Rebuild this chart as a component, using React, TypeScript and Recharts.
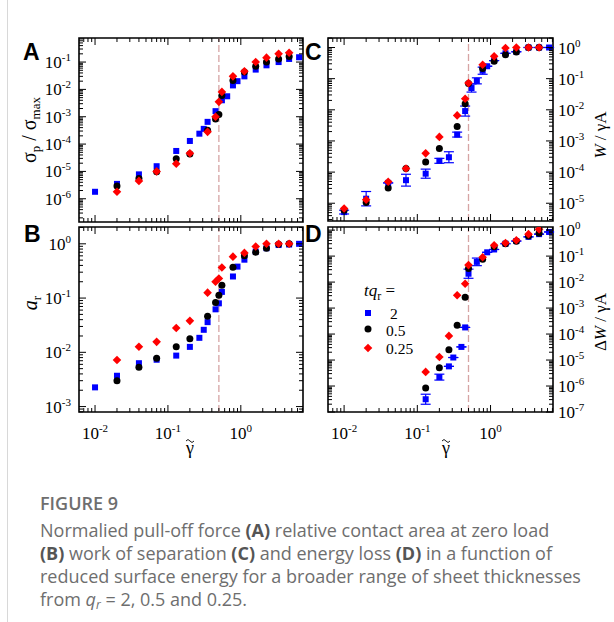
import React from 'react';
import { ScatterChart, Scatter, XAxis, YAxis, ReferenceLine, ReferenceArea, ErrorBar } from 'recharts';

// reduced surface energy (x) for each thickness series
const xQ2 = [0.01, 0.02, 0.04, 0.07, 0.13, 0.2, 0.27, 0.31, 0.35, 0.4, 0.45, 0.5, 0.55, 0.65, 0.78, 0.9, 1.12, 1.6, 2.25, 3.3, 4.6, 6.3];
const xQ05 = [0.01, 0.02, 0.04, 0.07, 0.13, 0.2, 0.27, 0.35, 0.45, 0.5, 0.55, 0.78, 1.12, 1.6, 2.25, 3.3, 4.6];
const xQ025 = [0.01, 0.02, 0.04, 0.07, 0.13, 0.2, 0.27, 0.35, 0.45, 0.5, 0.55, 0.78, 1.12, 1.6, 2.25, 3.3, 4.6];

// (A) pull-off force
const aQ2 = [1.8e-6, 3.5e-6, 7.8e-6, 1.55e-5, 5.6e-5, 1.3e-4, 2.4e-4, 3.6e-4, 6.5e-4, null, 1.6e-3, null, 4.0e-3, 5.6e-3, 0.014, 0.02, 0.03, 0.053, 0.076, 0.1, 0.13, 0.15];
const aQ05 = [null, 2.9e-6, 5.5e-6, 9.8e-6, 2.9e-5, 4.3e-5, null, 3.2e-4, 8.2e-4, 1.2e-3, 6e-3, 0.021, 0.043, 0.07, 0.1, 0.13, 0.16];
const aQ025 = [null, 1.8e-6, 4.5e-6, 1.0e-5, 1.9e-5, 4.6e-5, null, 2.8e-4, 1.0e-3, 3.5e-3, 8.1e-3, 0.03, 0.046, 0.1, 0.145, 0.2, 0.22];

// (B) contact area
const bQ2 = [0.00226, 0.0037, 0.0063, 0.0073, 0.0087, 0.0126, 0.0185, 0.026, 0.036, null, 0.062, 0.08, 0.13, null, 0.25, 0.38, 0.51, 0.72, 0.83, 0.95, 0.97, 1.0];
const bQ05 = [null, 0.003, 0.0053, 0.0078, 0.0127, 0.0177, null, 0.046, 0.083, 0.113, 0.173, 0.37, 0.6, 0.7, 0.83, 0.98, 1.0];
const bQ025 = [null, 0.0072, 0.0127, 0.0156, 0.028, 0.038, null, 0.126, 0.2, 0.23, 0.365, 0.58, 0.68, 0.89, 1.0, 1.0, 1.0];

// (C) work of separation
const cQ2 = [5.2e-6, 1.4e-5, 4.5e-5, 5.5e-5, 8.9e-5, 2.3e-4, 3.0e-4, null, 1.6e-3, null, 9.1e-3, null, 0.05, 0.085, 0.18, 0.25, 0.38, 0.65, 0.73, 1.0, 1.0, 1.0];
const cQ2Err = [1.15, 1.7, 1, 1.55, 1.4, 1.2, 1.5, 1, 1.2, 1, 1.45, 1, 1.35, 1.25, 1.3, 1, 1, 1, 1, 1, 1, 1];
const cQ05 = [6e-6, 1.05e-5, 3.1e-5, 1.3e-4, 2.1e-4, 5.7e-4, null, 2.9e-3, 0.0156, 0.07, null, 0.21, 0.36, 0.59, 0.72, 1.0, 1.0];
const cQ025 = [6.8e-6, 1.3e-5, 4.9e-5, 1.3e-4, 4.0e-4, 1.35e-3, null, 6.6e-3, 0.0226, 0.072, null, 0.28, 0.52, 0.96, 1.0, 1.0, 1.0];

// (D) energy loss
const dQ2 = [null, null, null, null, 3.1e-7, 2.2e-6, 5.7e-6, 1.25e-5, null, 3.2e-5, 1.8e-4, 0.021, null, 0.06, null, 0.14, 0.18, 0.3, 0.38, 0.55, 0.7, 0.85];
const dQ2Err = [1, 1, 1, 1, 1.56, 1.3, 1, 1, 1, 1, 1, 1.5, 1, 1.4, 1, 1, 1, 1, 1, 1, 1, 1];
const dQ05 = [null, null, null, null, 8.3e-7, 5.1e-6, 2.5e-5, 2.2e-4, 2.6e-3, 0.033, null, 0.075, 0.23, 0.3, 0.37, 0.6, 0.75];
const dQ025 = [null, null, null, null, 3.5e-6, 1.3e-5, 8.5e-5, 3.1e-3, 8.6e-3, 0.045, null, 0.09, 0.26, 0.32, 0.41, 0.7, 1.07];

const legendLabels = ['2', '0.5', '0.25'];
const transition = 0.5;

const SERIF = '"Liberation Serif", "Times New Roman", serif';
const SANS = '"Liberation Sans", Arial, sans-serif';
const BLUE = '#0000ff';
const RED = '#ff0000';
const CW = 614;
const CH = 470;
const X_DOMAIN: [number, number] = [10 ** -2.22, 10 ** 0.853];

type Frame = { l: number; r: number; t: number; b: number };

const points = (xs: number[], ys: (number | null)[], errs?: number[]) =>
  xs
    .map((x, i) => {
      const y = ys[i];
      if (y == null) return null;
      const f = errs ? errs[i] : 1;
      return { x, y, err: [y - y / f, y * f - y] };
    })
    .filter(Boolean) as { x: number; y: number; err: number[] }[];

const logTicks = (lo: number, hi: number) => {
  const out: number[] = [];
  for (let e = Math.floor(Math.log10(lo)); e <= Math.ceil(Math.log10(hi)); e++) {
    for (let m = 1; m < 10; m++) {
      const v = m * 10 ** e;
      if (v >= lo && v <= hi) out.push(v);
    }
  }
  return out;
};

const isDecade = (v: number) => Math.abs(Math.log10(v) - Math.round(Math.log10(v))) < 1e-6;

const Pow = ({ x, y, v, anchor }: { x: number; y: number; v: number; anchor: string }) => (
  <text x={x} y={y} textAnchor={anchor as any} fontFamily={SERIF} fontSize={17} fill="#000">
    <tspan>10</tspan>
    <tspan dy={-7} fontSize={11}>{String(Math.round(Math.log10(v)))}</tspan>
  </text>
);

const xTick = (f: Frame, labels: boolean) => (p: any) => {
  const v = p.payload.value;
  const x = p.payload.coordinate ?? p.x;
  const len = isDecade(v) ? 7 : 4;
  return (
    <g>
      <line x1={x} x2={x} y1={f.b} y2={f.b - len} stroke="#000" />
      <line x1={x} x2={x} y1={f.t} y2={f.t + len} stroke="#000" />
      {labels && isDecade(v) && <Pow x={x} y={f.b + 27} v={v} anchor="middle" />}
    </g>
  );
};

const yTick = (f: Frame, side: 'left' | 'right') => (p: any) => {
  const v = p.payload.value;
  const y = p.payload.coordinate ?? p.y;
  const len = isDecade(v) ? 7 : 4;
  return (
    <g>
      <line x1={f.l} x2={f.l + len} y1={y} y2={y} stroke="#000" />
      <line x1={f.r - len} x2={f.r} y1={y} y2={y} stroke="#000" />
      {isDecade(v) &&
        (side === 'left' ? (
          <Pow x={f.l - 8} y={y + 6} v={v} anchor="end" />
        ) : (
          <Pow x={f.r + 5} y={y + 6} v={v} anchor="start" />
        ))}
    </g>
  );
};

const Square = (p: any) => <rect x={p.cx - 3} y={p.cy - 3} width={6} height={6} fill={BLUE} />;
const Dot = (p: any) => <circle cx={p.cx} cy={p.cy} r={3.5} fill="#000" />;
const Diamond = (p: any) => (
  <polygon points={`${p.cx},${p.cy - 4.3} ${p.cx + 4.3},${p.cy} ${p.cx},${p.cy + 4.3} ${p.cx - 4.3},${p.cy}`} fill={RED} />
);

type PanelProps = {
  frame: Frame;
  yDomain: [number, number];
  side: 'left' | 'right';
  xLabels: boolean;
  q2: (number | null)[];
  q05: (number | null)[];
  q025: (number | null)[];
  q2Err?: number[];
};

const Panel = ({ frame, yDomain, side, xLabels, q2, q05, q025, q2Err }: PanelProps) => (
  <div style={{ position: 'absolute', left: 0, top: 0 }}>
    <ScatterChart
      width={CW}
      height={CH}
      margin={{ top: frame.t, left: frame.l - 1, right: CW - frame.r, bottom: CH - frame.b - 1 }}
    >
      <XAxis
        type="number"
        dataKey="x"
        scale="log"
        domain={X_DOMAIN}
        allowDataOverflow
        ticks={logTicks(...X_DOMAIN)}
        interval={0}
        height={1}
        tickLine={false}
        axisLine={false}
        tick={xTick(frame, xLabels)}
      />
      <YAxis
        type="number"
        dataKey="y"
        scale="log"
        domain={yDomain}
        allowDataOverflow
        ticks={logTicks(...yDomain)}
        interval={0}
        width={1}
        tickLine={false}
        axisLine={false}
        tick={yTick(frame, side)}
      />
      <ReferenceArea x1={X_DOMAIN[0]} x2={X_DOMAIN[1]} y1={yDomain[0]} y2={yDomain[1]} fill="none" fillOpacity={0} stroke="#000" strokeWidth={1.6} />
      <ReferenceLine x={transition} stroke="#d6a4a4" strokeDasharray="7 3" strokeWidth={1.3} />
      <Scatter data={points(xQ2, q2, q2Err)} shape={Square} isAnimationActive={false}>
        {q2Err && <ErrorBar dataKey="err" direction="y" width={5} stroke={BLUE} strokeWidth={1.2} />}
      </Scatter>
      <Scatter data={points(xQ05, q05)} shape={Dot} isAnimationActive={false} />
      <Scatter data={points(xQ025, q025)} shape={Diamond} isAnimationActive={false} />
    </ScatterChart>
  </div>
);

const Overlay = () => (
  <svg width={CW} height={470} style={{ position: 'absolute', left: 0, top: 0, pointerEvents: 'none' }}>
    <g fontFamily={SANS} fontWeight="bold" fontSize={23} fill="#000">
      <text x={23} y={60}>A</text>
      <text x={24} y={242}>B</text>
      <text x={305} y={60}>C</text>
      <text x={305} y={242}>D</text>
    </g>
    <g fontFamily={SERIF} fill="#000">
      <text transform="translate(36,130) rotate(-90)" textAnchor="middle" fontSize={20}>
        σ<tspan dy={4} fontSize={13}>p</tspan>
        <tspan dy={-4}> / σ</tspan>
        <tspan dy={4} fontSize={13}>max</tspan>
      </text>
      <text transform="translate(37,303) rotate(-90)" textAnchor="middle" fontSize={20}>
        <tspan fontStyle="italic">a</tspan>
        <tspan dy={4} fontSize={13}>r</tspan>
      </text>
      <text transform="translate(606,135) rotate(-90)" textAnchor="middle" fontSize={17}>
        <tspan fontStyle="italic">W</tspan> / γA
      </text>
      <text transform="translate(606,322) rotate(-90)" textAnchor="middle" fontSize={17}>
        Δ<tspan fontStyle="italic">W</tspan> / γA
      </text>
      {[190, 446].map((cx) => (
        <g key={cx}>
          <path d={`M${cx - 4},${441} q2,-3 4,0 t4,0`} fill="none" stroke="#000" strokeWidth={0.9} />
          <text x={cx} y={454} textAnchor="middle" fontSize={18}>γ</text>
        </g>
      ))}
      <text x={364} y={296} fontSize={17}>
        <tspan fontStyle="italic">tq</tspan>
        <tspan dy={4} fontSize={12}>r</tspan>
        <tspan dy={-4}> =</tspan>
      </text>
      <rect x={365} y={310} width={6} height={6} fill={BLUE} />
      <circle cx={368} cy={329} r={3.5} fill="#000" />
      <polygon points="368,343.7 372.3,348 368,352.3 363.7,348" fill={RED} />
      <text x={390} y={318.5} fontSize={15.5}>{legendLabels[0]}</text>
      <text x={386} y={336} fontSize={15.5}>{legendLabels[1]}</text>
      <text x={386} y={354} fontSize={15.5}>{legendLabels[2]}</text>
    </g>
  </svg>
);

const capBold = { fontWeight: 700, color: '#555' };
const line = { whiteSpace: 'nowrap' as const, height: 23, lineHeight: '23px' };

export default function App() {
  return (
    <div style={{ position: 'absolute', left: 0, top: 0, width: 614, height: 622, background: '#fff' }}>
      <div style={{ position: 'absolute', left: 7, top: 0, width: 1, height: 622, background: '#d8d8d8' }} />
      <Panel frame={{ l: 79, r: 303, t: 38, b: 222 }} yDomain={[10 ** -6.85, 10 ** -0.12]} side="left" xLabels={false} q2={aQ2} q05={aQ05} q025={aQ025} />
      <Panel frame={{ l: 79, r: 303, t: 227, b: 412 }} yDomain={[10 ** -3.1, 10 ** 0.31]} side="left" xLabels q2={bQ2} q05={bQ05} q025={bQ025} />
      <Panel frame={{ l: 328, r: 553, t: 38, b: 221 }} yDomain={[10 ** -5.57, 10 ** 0.305]} side="right" xLabels={false} q2={cQ2} q05={cQ05} q025={cQ025} q2Err={cQ2Err} />
      <Panel frame={{ l: 328, r: 553, t: 227, b: 412 }} yDomain={[1e-7, 10 ** 0.12]} side="right" xLabels q2={dQ2} q05={dQ05} q025={dQ025} q2Err={dQ2Err} />
      <Overlay />
      <div
        style={{
          position: 'absolute',
          left: 40,
          top: 491,
          fontFamily: '"Open Sans", sans-serif',
          fontSize: 18,
          color: '#6e6e6e',
        }}
      >
        <div style={{ fontWeight: 600, lineHeight: '24px', height: 24, marginBottom: 4 }}>FIGURE 9</div>
        <div style={line}>
          <span>Normalied pull-off force </span><span style={capBold}>(A)</span><span> relative contact area at zero load</span>
        </div>
        <div style={line}>
          <span style={capBold}>(B)</span><span> work of separation </span><span style={capBold}>(C)</span><span> and energy loss </span>
          <span style={capBold}>(D)</span><span> in a function of</span>
        </div>
        <div style={line}>
          <span>reduced surface energy for a broader range of sheet thicknesses</span>
        </div>
        <div style={line}>
          <span>from </span><i>q</i><sub style={{ fontSize: 12, verticalAlign: -3 }}><i>r</i></sub><span> = 2, 0.5 and 0.25.</span>
        </div>
      </div>
    </div>
  );
}
